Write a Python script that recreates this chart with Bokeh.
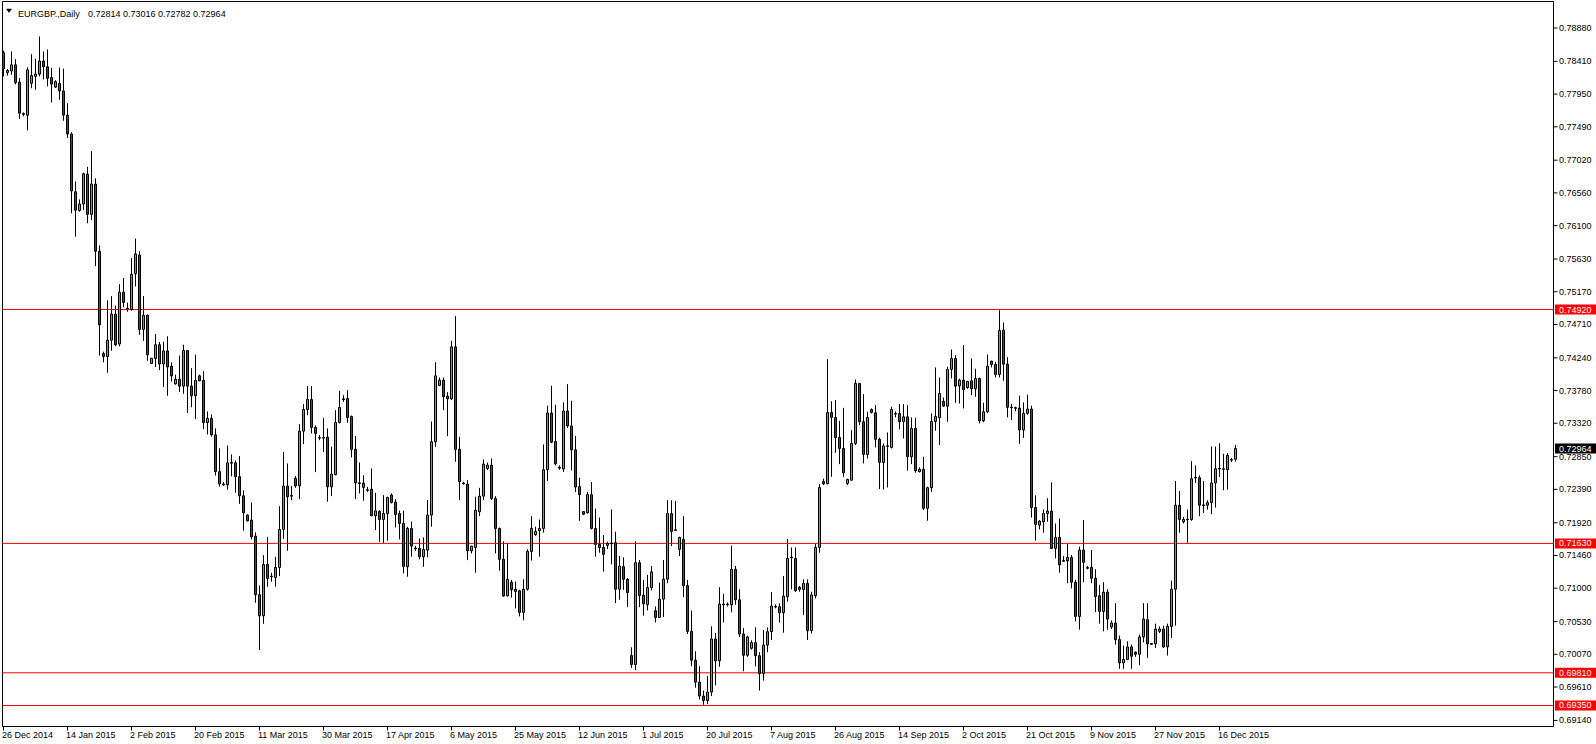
from bokeh.plotting import figure
from bokeh.models import Range1d, ColumnDataSource
from bokeh.core.properties import value
from bokeh.embed import file_html
from bokeh.resources import INLINE

symbol_text = "EURGBP.,Daily"
ohlc_text = "0.72814 0.73016 0.72782 0.72964"
x_tick_pos = list(range(0, 305, 16))
x_tick_labels = ["26 Dec 2014", "14 Jan 2015", "2 Feb 2015", "20 Feb 2015", "11 Mar 2015",
                 "30 Mar 2015", "17 Apr 2015", "6 May 2015", "25 May 2015", "12 Jun 2015",
                 "1 Jul 2015", "20 Jul 2015", "7 Aug 2015", "26 Aug 2015", "14 Sep 2015",
                 "2 Oct 2015", "21 Oct 2015", "9 Nov 2015", "27 Nov 2015", "16 Dec 2015"]
y_ticks = [0.78880, 0.78410, 0.77950, 0.77490, 0.77020, 0.76560, 0.76100, 0.75630, 0.75170,
           0.74710, 0.74240, 0.73780, 0.73320, 0.72850, 0.72390, 0.71920, 0.71460, 0.71000,
           0.70530, 0.70070, 0.69610, 0.69140]
levels = [0.74920, 0.71630, 0.69810, 0.69350]
last_price = 0.72964

opens = [0.78533,0.78253,0.78275,0.78361,0.78118,0.77665,0.77654,0.78102,0.78199,0.78231,
0.78415,0.78334,0.78183,0.78048,0.78102,0.77994,0.77654,0.77388,0.76576,0.76312,
0.76403,0.76824,0.76258,0.76684,0.75740,0.74300,0.74257,0.74489,0.74855,0.74435,
0.75163,0.74926,0.74920,0.75422,0.75686,0.74640,0.74839,0.74160,0.74230,0.74424,
0.74154,0.74338,0.74122,0.73874,0.73939,0.73842,0.74343,0.73842,0.73707,0.73987,
0.73922,0.73329,0.73389,0.73157,0.72639,0.72455,0.72455,0.72758,0.72763,0.72569,
0.72299,0.72028,0.71958,0.71733,0.70908,0.70612,0.71334,0.71161,0.71151,0.71292,
0.71826,0.72436,0.72295,0.72544,0.72440,0.73209,0.73514,0.73654,0.73261,0.73111,
0.73120,0.73125,0.72426,0.72595,0.73331,0.73654,0.73668,0.73415,0.72953,0.72473,
0.72477,0.72384,0.72393,0.72018,0.72079,0.71967,0.72051,0.72309,0.72211,0.72051,
0.71911,0.71301,0.71840,0.71564,0.71559,0.71442,0.71536,0.72028,0.73059,0.73852,
0.73926,0.73701,0.73664,0.74395,0.72953,0.72468,0.72464,0.71526,0.71573,0.72075,
0.72295,0.72684,0.72731,0.72262,0.71840,0.71406,0.70893,0.71084,0.70986,0.70963,
0.70659,0.70986,0.71518,0.71752,0.71808,0.71840,0.72666,0.73464,0.73063,0.72689,
0.72676,0.73492,0.73282,0.72946,0.72429,0.72078,0.72060,0.72316,0.71840,0.71616,
0.71574,0.71602,0.71626,0.71640,0.70986,0.71304,0.71126,0.70053,0.69927,0.71359,
0.70902,0.70767,0.71009,0.70683,0.70589,0.70846,0.71126,0.72050,0.71822,0.71546,
0.71686,0.71037,0.70393,0.69987,0.69679,0.69483,0.69420,0.69539,0.70286,0.69978,
0.70767,0.70776,0.70767,0.71266,0.70837,0.70356,0.70057,0.70155,0.70236,0.70050,
0.69800,0.70200,0.70388,0.70735,0.70739,0.70655,0.70880,0.71428,0.71419,0.71011,
0.70983,0.71067,0.70402,0.70894,0.71573,0.72502,0.72469,0.73472,0.73402,0.73120,
0.72966,0.72473,0.72520,0.73036,0.73880,0.73341,0.72881,0.73514,0.73467,0.73094,
0.72769,0.72994,0.72980,0.73448,0.73458,0.73341,0.73411,0.72849,0.73247,0.72639,
0.72672,0.72124,0.72413,0.73345,0.73397,0.73627,0.73561,0.74077,0.74231,0.73847,
0.73927,0.73823,0.73917,0.73805,0.73950,0.73355,0.73481,0.74194,0.74147,0.74006,
0.74630,0.74152,0.73539,0.73530,0.73534,0.73226,0.73460,0.73520,0.72134,0.71887,
0.71934,0.72050,0.72083,0.71560,0.71714,0.71378,0.71383,0.71434,0.71084,0.70603,
0.71537,0.71290,0.71294,0.71140,0.70893,0.70673,0.70944,0.70454,0.70510,0.70277,
0.69950,0.69997,0.70174,0.70099,0.70071,0.70314,0.70557,0.70221,0.70216,0.70393,
0.70426,0.70174,0.70463,0.70986,0.72167,0.71934,0.71962,0.71966,0.72550,0.72554,
0.72162,0.72167,0.72204,0.72480,0.72676,0.72680,0.72666,0.72802,0.72814]

highs = [0.78560,0.78302,0.78550,0.78442,0.78177,0.77692,0.78328,0.78512,0.78447,0.78760,
0.78550,0.78577,0.78318,0.78145,0.78323,0.78307,0.77822,0.77412,0.76721,0.76468,
0.76845,0.76926,0.77147,0.76765,0.75821,0.74327,0.75049,0.75109,0.74974,0.75276,
0.75362,0.75017,0.75643,0.75918,0.75740,0.75109,0.74850,0.74235,0.74575,0.74462,
0.74467,0.74543,0.74176,0.74003,0.74273,0.74424,0.74343,0.74095,0.74284,0.74003,
0.74052,0.73486,0.73443,0.73248,0.72968,0.72493,0.73006,0.72882,0.72795,0.72860,
0.72375,0.72037,0.72206,0.71784,0.71039,0.71465,0.71719,0.71217,0.71442,0.72154,
0.72914,0.72754,0.72436,0.72576,0.73307,0.73589,0.73842,0.73842,0.73289,0.73153,
0.73396,0.73247,0.72989,0.73504,0.73776,0.73715,0.73786,0.73429,0.73139,0.72768,
0.72590,0.72426,0.72684,0.72342,0.72098,0.72309,0.72286,0.72333,0.72253,0.72089,
0.72089,0.71864,0.71937,0.71596,0.71700,0.71714,0.72239,0.73345,0.74179,0.73964,
0.73964,0.73757,0.74479,0.74826,0.73129,0.72497,0.72520,0.71592,0.72286,0.72412,
0.72811,0.72768,0.72825,0.72295,0.71854,0.71660,0.71630,0.71117,0.71094,0.70977,
0.71126,0.71546,0.72013,0.71864,0.71966,0.73021,0.73567,0.73847,0.73581,0.72727,
0.73614,0.73870,0.73637,0.73142,0.72554,0.72083,0.72354,0.72494,0.72120,0.71994,
0.71747,0.71654,0.72106,0.71794,0.71453,0.71434,0.71140,0.70169,0.71658,0.71397,
0.71117,0.71187,0.71313,0.70743,0.71080,0.71397,0.72237,0.72237,0.72228,0.71724,
0.72013,0.71117,0.70687,0.70113,0.69903,0.69560,0.69763,0.70464,0.70370,0.71014,
0.70921,0.70799,0.71598,0.71313,0.70986,0.70440,0.70333,0.70267,0.70450,0.70100,
0.70410,0.70449,0.70946,0.70772,0.70786,0.71170,0.71691,0.71573,0.71573,0.71030,
0.71124,0.71124,0.70950,0.71620,0.72464,0.72539,0.74222,0.73631,0.73645,0.73355,
0.73537,0.72539,0.73223,0.73936,0.73880,0.73730,0.73481,0.73528,0.73575,0.73116,
0.73036,0.73191,0.73552,0.73486,0.73589,0.73589,0.73575,0.73402,0.73397,0.72700,
0.72849,0.72427,0.73458,0.74105,0.73964,0.73683,0.74114,0.74358,0.74278,0.73947,
0.74419,0.73917,0.74231,0.74086,0.73964,0.73608,0.74287,0.74198,0.74184,0.74911,
0.74737,0.74250,0.73590,0.73553,0.73707,0.73614,0.73721,0.73567,0.72307,0.71957,
0.72106,0.72265,0.72489,0.71910,0.71980,0.71453,0.71621,0.71467,0.71117,0.71584,
0.71957,0.71313,0.71537,0.71266,0.71047,0.71084,0.70986,0.70547,0.70790,0.70333,
0.70193,0.70253,0.70207,0.70109,0.70347,0.70790,0.70790,0.70230,0.70501,0.70463,
0.70473,0.70501,0.71107,0.72508,0.72368,0.72004,0.72106,0.72788,0.72727,0.72587,
0.72508,0.72237,0.72993,0.72993,0.73040,0.72890,0.72900,0.72834,0.73016]

lows = [0.78199,0.78210,0.78221,0.78086,0.77601,0.77638,0.77439,0.78032,0.78010,0.78199,
0.78156,0.78059,0.77832,0.78037,0.77870,0.77574,0.77331,0.76274,0.75945,0.76295,
0.76322,0.76134,0.76177,0.75530,0.74273,0.74176,0.74030,0.74338,0.74402,0.74402,
0.74952,0.74888,0.74904,0.75244,0.74564,0.74478,0.74198,0.74160,0.74111,0.74068,
0.73831,0.73707,0.73906,0.73863,0.73761,0.73734,0.73464,0.73545,0.73378,0.73912,
0.73237,0.73162,0.73130,0.72585,0.72429,0.72439,0.72385,0.72574,0.72342,0.72186,
0.71808,0.71939,0.71686,0.70795,0.70130,0.70500,0.71020,0.71091,0.71020,0.71170,
0.71695,0.71526,0.72239,0.72412,0.72253,0.73026,0.73434,0.73176,0.72633,0.73082,
0.72918,0.72215,0.72295,0.72590,0.73317,0.73621,0.73326,0.72839,0.72253,0.72333,
0.72230,0.72356,0.72014,0.71817,0.71653,0.71639,0.71667,0.72192,0.71854,0.71686,
0.71208,0.71161,0.71442,0.71526,0.71406,0.71301,0.71433,0.71864,0.72989,0.73842,
0.73504,0.73139,0.73645,0.72778,0.72239,0.72459,0.71395,0.71489,0.71217,0.72014,
0.72239,0.72661,0.72239,0.71489,0.71247,0.70880,0.70883,0.70869,0.70715,0.70603,
0.70547,0.70967,0.71388,0.71738,0.71444,0.71782,0.72508,0.73040,0.72727,0.72666,
0.72634,0.73254,0.72657,0.72354,0.71948,0.72027,0.72050,0.71826,0.71444,0.71499,
0.71233,0.71551,0.71336,0.70790,0.70837,0.70977,0.70734,0.69880,0.69847,0.70734,
0.70613,0.70687,0.70967,0.70519,0.70580,0.70594,0.71070,0.71593,0.71808,0.71453,
0.70874,0.70356,0.69903,0.69600,0.69437,0.69360,0.69370,0.69483,0.69633,0.69894,
0.70519,0.70743,0.70659,0.70767,0.70314,0.69833,0.70034,0.70137,0.69900,0.69560,
0.69700,0.70100,0.70271,0.70716,0.70514,0.70374,0.70810,0.70983,0.70950,0.70950,
0.70622,0.70271,0.70364,0.70856,0.71499,0.72450,0.72464,0.72567,0.72905,0.72745,
0.72567,0.72450,0.72511,0.73013,0.73294,0.72755,0.72825,0.73458,0.72980,0.72394,
0.72389,0.72417,0.72966,0.73402,0.73233,0.73106,0.72652,0.72745,0.72624,0.72628,
0.72100,0.71949,0.72352,0.73214,0.73013,0.73552,0.73341,0.73950,0.73608,0.73598,
0.73528,0.73805,0.73716,0.73692,0.73317,0.73336,0.73467,0.74105,0.73964,0.73964,
0.73917,0.73404,0.73366,0.73488,0.73030,0.73114,0.73441,0.71994,0.71668,0.71826,
0.71780,0.71934,0.71551,0.71420,0.71219,0.71374,0.71070,0.70998,0.70533,0.70417,
0.71084,0.71266,0.71070,0.70664,0.70501,0.70393,0.70417,0.70426,0.70207,0.69866,
0.69866,0.69987,0.69866,0.70034,0.69917,0.70239,0.70020,0.70202,0.70160,0.70370,
0.70160,0.70053,0.70300,0.70473,0.71780,0.71910,0.71639,0.71948,0.72480,0.72013,
0.72060,0.72106,0.72041,0.72134,0.72564,0.72377,0.72386,0.72774,0.72782]

closes = [0.78307,0.78280,0.78361,0.78113,0.77681,0.77676,0.78291,0.78210,0.78231,0.78415,
0.78334,0.78172,0.78091,0.78124,0.77994,0.77654,0.77388,0.76587,0.76317,0.76403,
0.76829,0.76258,0.76684,0.75740,0.74704,0.74257,0.74489,0.74855,0.74424,0.75163,
0.75017,0.74936,0.75416,0.75702,0.74640,0.74839,0.74284,0.74235,0.74424,0.74154,
0.74338,0.74111,0.73987,0.73939,0.73842,0.74343,0.73842,0.73707,0.73922,0.73917,
0.73329,0.73389,0.73157,0.72639,0.72466,0.72466,0.72763,0.72768,0.72569,0.72299,
0.72062,0.71948,0.71723,0.70908,0.70612,0.71334,0.71137,0.71170,0.71292,0.71826,
0.72436,0.72286,0.72304,0.72440,0.73209,0.73514,0.73654,0.73261,0.73176,0.73120,
0.73111,0.72426,0.72604,0.73331,0.73542,0.73664,0.73401,0.72953,0.72482,0.72482,
0.72417,0.72375,0.72018,0.72088,0.71967,0.72051,0.72276,0.72206,0.72037,0.71911,
0.71306,0.71840,0.71592,0.71554,0.71442,0.71545,0.72028,0.73059,0.73987,0.73926,
0.73692,0.73664,0.74395,0.72953,0.72497,0.72477,0.71526,0.71592,0.72098,0.72295,
0.72745,0.72731,0.72262,0.71840,0.71406,0.70890,0.71126,0.70977,0.70954,0.70659,
0.70986,0.71518,0.71840,0.71798,0.71840,0.72666,0.73464,0.73054,0.72750,0.72699,
0.73492,0.73282,0.72946,0.72424,0.72316,0.72041,0.72316,0.71840,0.71616,0.71570,
0.71476,0.71630,0.71635,0.70986,0.71313,0.71126,0.70939,0.69927,0.71359,0.70897,
0.70781,0.71009,0.71229,0.70589,0.70846,0.71126,0.72050,0.71798,0.71812,0.71714,
0.71037,0.70393,0.69987,0.69679,0.69483,0.69420,0.69539,0.70286,0.69978,0.70776,
0.70776,0.70767,0.71266,0.70837,0.70356,0.70057,0.70314,0.70236,0.70050,0.69800,
0.70200,0.70388,0.70749,0.70744,0.70655,0.70889,0.71419,0.71438,0.70964,0.70983,
0.71067,0.70402,0.70903,0.71573,0.72417,0.72469,0.73472,0.73402,0.73120,0.72966,
0.72623,0.72530,0.73036,0.73880,0.73341,0.72881,0.73402,0.73472,0.73094,0.72769,
0.73000,0.73003,0.73514,0.73458,0.73341,0.73411,0.72849,0.73247,0.72652,0.72672,
0.72124,0.72413,0.73345,0.73416,0.73739,0.73561,0.74077,0.74231,0.73842,0.73927,
0.73795,0.73908,0.73805,0.73950,0.73355,0.73481,0.74123,0.74147,0.74006,0.74624,
0.74152,0.73544,0.73548,0.73539,0.73226,0.73460,0.73520,0.72134,0.71896,0.71943,
0.72050,0.72083,0.71560,0.71714,0.71327,0.71388,0.71434,0.71084,0.70603,0.71537,
0.71364,0.71280,0.71140,0.70883,0.70673,0.70944,0.70566,0.70510,0.70277,0.69950,
0.69997,0.70174,0.70043,0.70071,0.70314,0.70566,0.70216,0.70211,0.70426,0.70426,
0.70174,0.70463,0.70986,0.72167,0.71966,0.71966,0.71971,0.72540,0.72559,0.72167,
0.72172,0.72204,0.72480,0.72680,0.72685,0.72671,0.72867,0.72811,0.72964]

# ---------------- geometry: page pixel -> data coordinate ----------------
W, H = 1596, 744
BAR_PX, BAR0_PX = 4.0, 3.5          # bar spacing, centre of first bar
PPU, REF_PRICE, REF_PY = 7109.5, 0.74920, 309.5
CH_L, CH_T, CH_R, CH_B = 2.5, 1.5, 1553.5, 726.5   # chart box lines (pixel centres)
SHIFT = 0.5                          # Bokeh translates its canvas by half a pixel

def xd(px):
    return (px - BAR0_PX) / BAR_PX

def yd(py):
    return REF_PRICE - (py - REF_PY) / PPU

p = figure(width=W, height=H, output_backend="svg", toolbar_location=None, title=None,
           x_range=Range1d(xd(SHIFT), xd(W + SHIFT)), y_range=Range1d(yd(H + SHIFT), yd(SHIFT)),
           x_axis_location=None, y_axis_location=None,
           min_border=0, min_border_left=0, min_border_right=0,
           min_border_top=0, min_border_bottom=0)
p.outline_line_color = None
p.background_fill_color = "white"
p.border_fill_color = "white"
p.xgrid.visible = False
p.ygrid.visible = False

FONT = value("Liberation Sans")
FS = value("9px")

# chart box (top, left, right = price axis line, bottom = time axis line)
p.segment(x0=[xd(CH_L), xd(CH_L), xd(CH_R), xd(CH_L)],
          y0=[yd(CH_T), yd(CH_T), yd(CH_T), yd(CH_B)],
          x1=[xd(CH_R), xd(CH_L), xd(CH_R), xd(CH_R)],
          y1=[yd(CH_T), yd(CH_B), yd(CH_B), yd(CH_B)],
          line_color="black", line_width=1)

# horizontal levels
p.segment(x0=[xd(CH_L)] * len(levels), x1=[xd(CH_R)] * len(levels), y0=levels, y1=levels,
          line_color="#FF0000", line_width=1)

# candles
idx = list(range(len(opens)))
tops = [max(o, c) for o, c in zip(opens, closes)]
bots = [min(o, c) for o, c in zip(opens, closes)]
cols = ["#32CD32" if c >= o else "#FF0000" for o, c in zip(opens, closes)]
src = ColumnDataSource(dict(x=idx, h=highs, l=lows, top=tops, bot=bots, col=cols))
p.segment(x0="x", y0="l", x1="x", y1="h", source=src, line_color="black", line_width=1)
p.vbar(x="x", width=0.5, top="top", bottom="bot", fill_color="col", line_color="black",
       line_width=1, source=src)

# price scale: ticks + labels
p.segment(x0=[xd(CH_R)] * len(y_ticks), x1=[xd(CH_R + 4)] * len(y_ticks), y0=y_ticks, y1=y_ticks,
          line_color="black", line_width=1)
p.text(x=[xd(1559)] * len(y_ticks), y=y_ticks, text=["%.5f" % v for v in y_ticks],
       text_font=FONT, text_font_size=FS, text_color="black",
       text_align="left", text_baseline="middle")

# time scale: ticks + labels
p.segment(x0=x_tick_pos, x1=x_tick_pos, y0=[yd(CH_B)] * len(x_tick_pos),
          y1=[yd(CH_B + 4)] * len(x_tick_pos), line_color="black", line_width=1)
p.text(x=x_tick_pos, y=[yd(735)] * len(x_tick_pos), text=x_tick_labels, x_offset=-1.5,
       text_font=FONT, text_font_size=FS, text_color="black",
       text_align="left", text_baseline="alphabetic")

# price tags on the scale
tag_prices = levels + [last_price]
tag_fill = ["#FF0000"] * len(levels) + ["black"]
half = 5.0 / PPU
p.quad(left=[xd(1555)] * len(tag_prices), right=[xd(1600)] * len(tag_prices),
       top=[v + half for v in tag_prices], bottom=[v - half for v in tag_prices],
       fill_color=tag_fill, line_color=None)
p.text(x=[xd(1559)] * len(tag_prices), y=tag_prices, text=["%.5f" % v for v in tag_prices],
       text_font=FONT, text_font_size=FS, text_color="white",
       text_align="left", text_baseline="middle")

# caption: small triangle + symbol + OHLC of last bar
p.patch(x=[xd(6.5), xd(11.5), xd(9.0)], y=[yd(9.0), yd(9.0), yd(12.5)],
        fill_color="black", line_color="black", line_width=0.5)
p.text(x=[xd(18)], y=[yd(14)], text=[symbol_text], text_font=FONT, text_font_size=FS,
       text_color="black", text_align="left", text_baseline="alphabetic")
p.text(x=[xd(88)], y=[yd(14)], text=[ohlc_text], text_font=FONT, text_font_size=FS,
       text_color="black", text_align="left", text_baseline="alphabetic")

open("out.html", "w").write(file_html(p, INLINE))
